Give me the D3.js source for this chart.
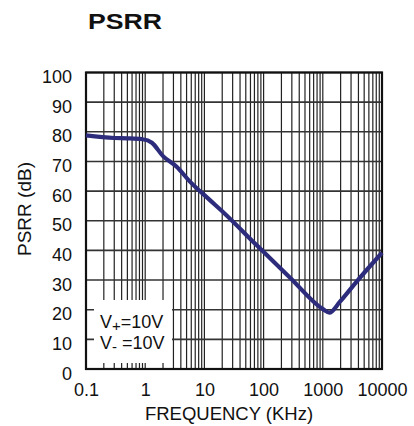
<!DOCTYPE html>
<html>
<head>
<meta charset="utf-8">
<script src="https://cdn.jsdelivr.net/npm/d3@7"></script>
<style>
  body { margin: 0; background: #fff; }
  text { font-family: "Liberation Sans", Arial, sans-serif; fill: #111; }
</style>
</head>
<body>
<div id="chart"></div>
<script>
// curve: frequency (kHz) vs PSRR (dB)
var freq = [0.1, 0.3, 0.5, 0.9, 1.3, 2, 3.4, 5.7, 12, 21, 76, 280, 1020, 1290, 1950, 3700, 10000];
var psrr = [78.8, 77.9, 77.8, 77.5, 76.3, 71.8, 68.2, 63.2, 57.2, 52.8, 41.8, 30.8, 20.1, 19.0, 22.7, 29.4, 39.2];

var xTicks = [0.1, 1, 10, 100, 1000, 10000];
var xTickLabels = ['0.1', '1', '10', '100', '1000', '10000'];
var yTicks = [0, 10, 20, 30, 40, 50, 60, 70, 80, 90, 100];

var W = 414, H = 426;
var plotL = 86, plotR = 382, plotT = 72.5, plotB = 369;

var svg = d3.select('#chart')
  .append('svg')
    .attr('width', W)
    .attr('height', H);

var x = d3.scaleLog().domain([0.1, 10000]).range([plotL, plotR]);
var y = d3.scaleLinear().domain([0, 100]).range([plotB, plotT]);

// minor + major vertical grid: 1..9 in every decade
var vLines = [];
xTicks.slice(0, -1).forEach(function (d) {
  for (var k = 1; k < 10; k++) vLines.push(d * k);
});

var grid = svg.append('g').attr('class', 'grid');

grid.selectAll('line.v')
  .data(vLines)
  .enter().append('line')
    .attr('class', 'v')
    .attr('x1', function (d) { return x(d); })
    .attr('x2', function (d) { return x(d); })
    .attr('y1', plotT)
    .attr('y2', plotB)
    .attr('stroke', '#222')
    .attr('stroke-width', 1.2);

grid.selectAll('line.h')
  .data(yTicks)
  .enter().append('line')
    .attr('class', 'h')
    .attr('x1', plotL)
    .attr('x2', plotR)
    .attr('y1', function (d) { return y(d); })
    .attr('y2', function (d) { return y(d); })
    .attr('stroke', '#333')
    .attr('stroke-width', 1.6);

// white box behind the supply-voltage note
svg.append('rect')
  .attr('x', 94)
  .attr('y', 300)
  .attr('width', 78)
  .attr('height', 63)
  .attr('fill', '#fff');

// frame
svg.append('rect')
  .attr('x', plotL)
  .attr('y', plotT)
  .attr('width', plotR - plotL)
  .attr('height', plotB - plotT)
  .attr('fill', 'none')
  .attr('stroke', '#111')
  .attr('stroke-width', 2.2);

// curve
var line = d3.line()
  .x(function (d, i) { return x(freq[i]); })
  .y(function (d) { return y(d); })
  .curve(d3.curveMonotoneX);

svg.append('path')
  .datum(psrr)
  .attr('d', line)
  .attr('fill', 'none')
  .attr('stroke', '#2d2c7c')
  .attr('stroke-width', 4.2)
  .attr('stroke-linejoin', 'round');

// axes (labels only, the frame draws the lines)
var xAxis = d3.axisBottom(x)
  .tickValues(xTicks)
  .tickFormat(function (d, i) { return xTickLabels[i]; })
  .tickSize(0)
  .tickPadding(14);

svg.append('g')
  .attr('transform', 'translate(0,' + plotB + ')')
  .call(xAxis)
  .call(function (g) { g.select('.domain').remove(); })
  .selectAll('text')
    .style('font-size', '18px')
    .style('font-family', '"Liberation Sans", Arial, sans-serif')
    .attr('fill', '#111');

var yAxis = d3.axisLeft(y)
  .tickValues(yTicks)
  .tickSize(0)
  .tickPadding(14);

svg.append('g')
  .attr('transform', 'translate(' + plotL + ',0)')
  .call(yAxis)
  .call(function (g) { g.select('.domain').remove(); })
  .selectAll('text')
    .attr('dy', '0.56em')
    .style('font-size', '18px')
    .style('font-family', '"Liberation Sans", Arial, sans-serif')
    .attr('fill', '#111');

// titles
svg.append('text')
  .attr('x', 88)
  .attr('y', 29)
  .attr('textLength', 74)
  .attr('lengthAdjust', 'spacingAndGlyphs')
  .style('font-size', '22px')
  .style('font-weight', 'bold')
  .text('PSRR');

svg.append('text')
  .attr('x', 229)
  .attr('y', 420)
  .attr('text-anchor', 'middle')
  .style('font-size', '18.5px')
  .text('FREQUENCY (KHz)');

svg.append('text')
  .attr('transform', 'translate(31,209) rotate(-90)')
  .attr('text-anchor', 'middle')
  .style('font-size', '19px')
  .text('PSRR (dB)');

// supply note
var note = svg.append('g').style('font-size', '18px');
var t1 = note.append('text').attr('x', 100).attr('y', 328);
t1.append('tspan').text('V');
t1.append('tspan').attr('dy', 3).style('font-size', '15px').text('+');
t1.append('tspan').attr('dy', -3).text('=10V');

var t2 = note.append('text').attr('x', 100).attr('y', 349);
t2.append('tspan').text('V');
t2.append('tspan').attr('dy', 3).style('font-size', '15px').text('-');
t2.append('tspan').attr('dy', -3).text(' =10V');
</script>
</body>
</html>
